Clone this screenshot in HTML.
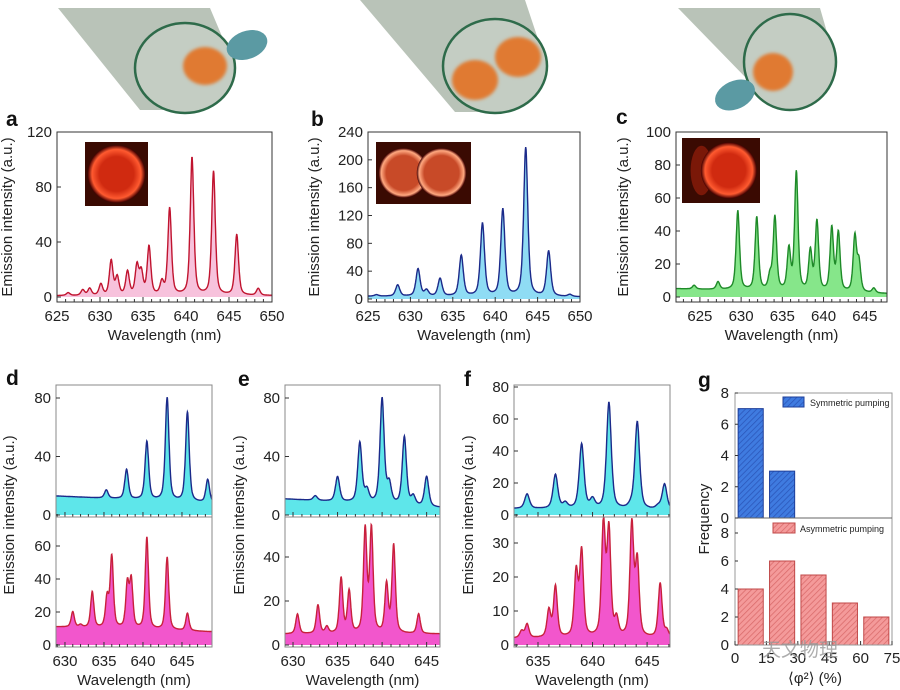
<!DOCTYPE html>
<html><head><meta charset="utf-8"><style>
body{margin:0;background:#fff}
svg{display:block;font-family:"Liberation Sans",Arial,sans-serif}
</style></head><body>
<svg id="fig" width="900" height="690" viewBox="0 0 900 690" xmlns="http://www.w3.org/2000/svg">
<defs>
<filter id="blur" x="-30%" y="-30%" width="160%" height="160%"><feGaussianBlur stdDeviation="1.5"/></filter>
<pattern id="hatchB" width="4" height="4" patternUnits="userSpaceOnUse" patternTransform="rotate(45)"><rect width="4" height="4" fill="#3f7be0"/><line x1="0" y1="0" x2="0" y2="4" stroke="#2a55b8" stroke-width="1.5"/></pattern>
<pattern id="hatchR" width="4" height="4" patternUnits="userSpaceOnUse" patternTransform="rotate(45)"><rect width="4" height="4" fill="#f49a9a"/><line x1="0" y1="0" x2="0" y2="4" stroke="#d96a6a" stroke-width="1.5"/></pattern>
<radialGradient id="ringA"><stop offset="0.6" stop-color="#d02a10"/><stop offset="0.85" stop-color="#ff5a30"/><stop offset="1" stop-color="#400"/></radialGradient>
<radialGradient id="ringB"><stop offset="0.7" stop-color="#c84a28"/><stop offset="0.9" stop-color="#ffa880"/><stop offset="1" stop-color="#400"/></radialGradient>
</defs>
<g>
<polygon points="58,8 210,8 232,60 178,110 140,110" fill="#b9c3b8"/>
<ellipse cx="185" cy="68" rx="50" ry="45" fill="#c4cdc3" stroke="#2e6b4a" stroke-width="2.5"/>
<ellipse cx="205" cy="66" rx="22" ry="19" fill="#e07a30" filter="url(#blur)"/>
<ellipse cx="247" cy="45" rx="21" ry="14" transform="rotate(-20 247 45)" fill="#5b9aa3"/>
</g>
<g>
<polygon points="360,0 525,0 545,60 500,112 455,112" fill="#b9c3b8"/>
<ellipse cx="495" cy="66" rx="52" ry="47" fill="#c4cdc3" stroke="#2e6b4a" stroke-width="2.5"/>
<ellipse cx="475" cy="80" rx="23" ry="20" fill="#e07a30" filter="url(#blur)"/>
<ellipse cx="518" cy="57" rx="23" ry="20" fill="#e07a30" filter="url(#blur)"/>
</g>
<g>
<polygon points="678,8 820,8 835,60 790,100 748,80" fill="#b9c3b8"/>
<ellipse cx="790" cy="62" rx="46" ry="48" fill="#c4cdc3" stroke="#2e6b4a" stroke-width="2.5"/>
<ellipse cx="773" cy="72" rx="20" ry="19" fill="#e07a30" filter="url(#blur)"/>
<ellipse cx="735" cy="95" rx="21" ry="14" transform="rotate(-25 735 95)" fill="#5b9aa3"/>
</g>
<g id="plots"></g>
</svg>
<script>
// ---- data ----
const aCenters=[626.3,628,628.8,630.1,631.3,632,633.2,634.3,634.8,635.7,637.2,638.1,640.7,643.2,645.9,648.4];
const aValues=[3,5,6,9,26,14,18,22,17,36,10,64,101,91,45,6];
const bCenters=[626,628.5,630.9,631.9,633.5,636,638.5,640.9,643.6,646.3,648.8];
const bValues=[6,20,43,12,29,62,108,128,217,68,6];
const cCenters=[624.3,627.2,629.6,631.9,633.5,634.1,635.8,636.7,638.4,639.2,641,641.8,643.8,644.3,646.1];
const cValues=[7,9,52,48,12,48,28,75,27,45,41,38,36,20,5];
const dUpCenters=[635.3,637.9,640.5,643.1,645.7,648.3];
const dUpValues=[17,31,50,80,70,24];
const dLoCenters=[631,632,633.5,635.4,636,638,638.5,640.5,643.1,645.7];
const dLoValues=[20,12,32,28,53,36,38,65,53,19];
const eUpCenters=[632.5,635,637.5,638.3,640,640.8,642.5,643.5,645];
const eUpValues=[13,26,49,16,79,20,53,12,26];
const eLoCenters=[630.5,632.8,633.8,635.4,636.3,638.1,638.8,640.5,641.3,644.1];
const eLoValues=[14,18,8,30,24,52,52,27,45,14];
const fUpCenters=[634,636.6,637.5,639,640,641.5,643.5,644.1,646,646.6];
const fUpValues=[13,25,7,44,9,70,5,58,5,19];
const fLoCenters=[633.5,634,636,636.6,638.5,639,641,641.5,642.2,643.6,644.1,646.2,646.8];
const fLoValues=[4,6,10,17,21,27,35,33,7,35,24,18,4];
const aBase=[1,1],bBase=[4,3],cBase=[5,2],dUpBase=[13,8],dLoBase=[11,8],eUpBase=[11,5],eLoBase=[5,5],fUpBase=[4,3],fLoBase=[2,2];
const gBins=[0,15,30,45,60];
const gSymmetric=[7,3];
const gAsymmetric=[4,6,5,3,2];
const gTicks=[0,15,30,45,60,75];

const NS="http://www.w3.org/2000/svg";
const root=document.getElementById('plots');
function mk(tag,attrs,parent){const e=document.createElementNS(NS,tag);for(const k in attrs)e.setAttribute(k,attrs[k]);(parent||root).appendChild(e);return e;}
function txt(x,y,s,size,anchor,parent,extra){const t=mk('text',Object.assign({x:x,y:y,'font-size':size,'text-anchor':anchor||'middle',fill:'#222'},extra||{}),parent);t.textContent=s;return t;}

function panel(name,cfg,centers,values,base,w){
  const g=mk('g',{});
  
  
  const [x0,y0,x1,y1]=cfg.box;
  const xs=v=>x0+(v-cfg.xd[0])/(cfg.xd[1]-cfg.xd[0])*(x1-x0);
  const ys=v=>cfg.zero-v*(cfg.zero-cfg.ref[1])/cfg.ref[0];
  const bl=x=>base[0]+(base[1]-base[0])*(x-cfg.xd[0])/(cfg.xd[1]-cfg.xd[0]);
  const shape=d=>{const l=w*w/(d*d+w*w);const gs=Math.exp(-d*d/(2*w*w*0.8));return 0.55*l+0.45*gs;};
  const spec=x=>{let s=bl(x);for(let i=0;i<centers.length;i++){const h=values[i]-bl(centers[i]);s+=h*shape(x-centers[i]);}return s;};
  let pts=[];
  for(let x=cfg.xd[0];x<=cfg.xd[1]+1e-9;x+=0.04){let v=spec(x);let py=Math.max(y0+1,Math.min(cfg.zero,ys(v)));pts.push(xs(x).toFixed(1)+','+py.toFixed(1));}
  const fill=mk('polygon',{points:xs(cfg.xd[0])+','+cfg.zero+' '+pts.join(' ')+' '+xs(cfg.xd[1])+','+cfg.zero,fill:cfg.fill},g);
  
  
  const line=mk('polyline',{points:pts.join(' '),fill:'none',stroke:cfg.line,'stroke-width':1.4},g);
  
  
  const frame=mk('rect',{x:x0,y:y0,width:x1-x0,height:y1-y0,fill:'none',stroke:cfg.frame||'#333','stroke-width':1},g);
  
  
  cfg.yticks.forEach(v=>{const p=ys(v);mk('line',{x1:x0,x2:x0+4,y1:p,y2:p,stroke:'#333'},g);const t=txt(x0-5,p+5,String(v),15,'end',g);});
  for(let v=Math.ceil(cfg.xd[0]);v<=cfg.xd[1];v++){const p=xs(v);mk('line',{x1:p,x2:p,y1:y1,y2:y1-(v%5==0?5:3),stroke:'#333'},g);}
  (cfg.xlabels||[]).forEach(v=>{const t=txt(xs(v),y1+19,String(v),15,'middle',g);});
  if(cfg.xtitle){const t=txt((x0+x1)/2,y1+38,'Wavelength (nm)',15,'middle',g);}
}
panel('spectrum-a',{box:[57,132,272,302],xd:[625,650],zero:297,ref:[120,132],yticks:[0,40,80,120],xlabels:[625,630,635,640,645,650],xtitle:1,fill:'#f7c2dc',line:'#c0142f'},aCenters,aValues,aBase,0.24);
panel('spectrum-b',{box:[368,132,580,302],xd:[625,650],zero:299,ref:[240,132],yticks:[0,40,80,120,160,200,240],xlabels:[625,630,635,640,645,650],xtitle:1,fill:'#8fdcf4',line:'#1b2a8a'},bCenters,bValues,bBase,0.28);
panel('spectrum-c',{box:[676,132,887,302],xd:[622.1,647.7],zero:297,ref:[100,132],yticks:[0,20,40,60,80,100],xlabels:[625,630,635,640,645],xtitle:1,fill:'#86e68a',line:'#1e8a28'},cCenters,cValues,cBase,0.24);
panel('spectrum-d-symmetric',{box:[56,385,212,517],xd:[628.85,648.85],zero:515,ref:[80,398],yticks:[0,40,80],fill:'#5ee6ea',line:'#1b2a8a',frame:'#888'},dUpCenters,dUpValues,dUpBase,0.27);
panel('spectrum-d-asymmetric',{box:[56,517,212,647],xd:[628.85,648.85],zero:645,ref:[60,546],yticks:[0,20,40,60],xlabels:[630,635,640,645],xtitle:1,fill:'#f256cc',line:'#c8203c',frame:'#888'},dLoCenters,dLoValues,dLoBase,0.24);
panel('spectrum-e-symmetric',{box:[285,385,440,517],xd:[629.1,646.5],zero:515,ref:[80,398],yticks:[0,40,80],fill:'#5ee6ea',line:'#1b2a8a',frame:'#888'},eUpCenters,eUpValues,eUpBase,0.27);
panel('spectrum-e-asymmetric',{box:[285,517,440,647],xd:[629.1,646.5],zero:645,ref:[40,557],yticks:[0,20,40],xlabels:[630,635,640,645],xtitle:1,fill:'#f256cc',line:'#c8203c',frame:'#888'},eLoCenters,eLoValues,eLoBase,0.22);
panel('spectrum-f-symmetric',{box:[514,385,670,517],xd:[632.8,647.1],zero:515,ref:[80,387],yticks:[0,20,40,60,80],fill:'#5ee6ea',line:'#1b2a8a',frame:'#888'},fUpCenters,fUpValues,fUpBase,0.25);
panel('spectrum-f-asymmetric',{box:[514,517,670,647],xd:[632.8,647.1],zero:645,ref:[30,543],yticks:[0,10,20,30],xlabels:[635,640,645],xtitle:1,fill:'#f256cc',line:'#c8203c',frame:'#888'},fLoCenters,fLoValues,fLoBase,0.2);

// insets
function inset(name,x,y,w,h,kind){const g=mk('g',{});
 mk('rect',{x:x,y:y,width:w,height:h,fill:'#3a0a02'},g);
 if(kind==1){mk('circle',{cx:x+w/2,cy:y+h/2,r:h*0.45,fill:'url(#ringA)'},g);}
 if(kind==2){mk('circle',{cx:x+w*0.29,cy:y+h/2,r:h*0.4,fill:'url(#ringB)'},g);mk('circle',{cx:x+w*0.69,cy:y+h/2,r:h*0.4,fill:'url(#ringB)'},g);}
 if(kind==3){mk('ellipse',{cx:x+w*0.25,cy:y+h/2,rx:w*0.14,ry:h*0.38,fill:'#7a1808'},g);mk('circle',{cx:x+w*0.6,cy:y+h/2,r:h*0.43,fill:'url(#ringA)'},g);}
}
inset('inset-image-a',85,142,63,64,1);
inset('inset-image-b',376,142,95,62,2);
inset('inset-image-c',682,138,78,65,3);

// panel letters & y titles
[['a',0,126],['b',305,126],['c',610,124],['d',0,385],['e',232,386],['f',458,386],['g',692,387]].forEach(l=>{const t=txt(l[1]+6,l[2],l[0],21,'start',root,{'font-weight':'bold',fill:'#111'});});
[[12,217],[319,217],[628,217],[14,515],[244,515],[473,515]].forEach(p=>{const t=txt(p[0],p[1],'Emission intensity (a.u.)',15,'middle',root,{transform:'rotate(-90 '+p[0]+' '+p[1]+')'});});

// panel g histogram
(function(){
 const g=mk('g',{});
 const X0=735,X1=892;const xs=v=>X0+v/75*(X1-X0);
 const yU=v=>518-v*(518-393)/8, yL=v=>645-v*(645-533)/8;
 gSymmetric.forEach((v,i)=>{const r=mk('rect',{x:xs(gBins[i]+1.5),y:yU(v),width:xs(12)-X0,height:518-yU(v),fill:'url(#hatchB)',stroke:'#1e3f9a','stroke-width':1},g);});
 gAsymmetric.forEach((v,i)=>{const r=mk('rect',{x:xs(gBins[i]+1.5),y:yL(v),width:xs(12)-X0,height:645-yL(v),fill:'url(#hatchR)',stroke:'#c04848','stroke-width':1},g);});
 mk('rect',{x:X0,y:393,width:X1-X0,height:252,fill:'none',stroke:'#999'},g);
 mk('line',{x1:X0,x2:X1,y1:518,y2:518,stroke:'#666'},g);
 [0,2,4,6,8].forEach(v=>{let t=txt(X0-6,yU(v)+5,String(v),15,'end',g);mk('line',{x1:X0,x2:X0+3,y1:yU(v),y2:yU(v),stroke:'#333'},g);
  t=txt(X0-6,yL(v)+5,String(v),15,'end',g);mk('line',{x1:X0,x2:X0+3,y1:yL(v),y2:yL(v),stroke:'#333'},g);});
 gTicks.forEach(v=>{const t=txt(xs(v),663,String(v),15,'middle',g);mk('line',{x1:xs(v),x2:xs(v),y1:645,y2:641,stroke:'#333'},g);});
 const lb=mk('rect',{x:783,y:397,width:21,height:10,fill:'url(#hatchB)',stroke:'#1e3f9a'},g);
 let t=txt(810,406,'Symmetric pumping',9,'start',g);
 const lr=mk('rect',{x:773,y:523,width:22,height:10,fill:'url(#hatchR)',stroke:'#c04848'},g);
 t=txt(800,532,'Asymmetric pumping',9,'start',g);
 t=txt(709,519,'Frequency',15,'middle',g,{transform:'rotate(-90 709 519)'});
 t=txt(815,683,'⟨φ²⟩ (%)',15,'middle',g);
 t=txt(800,656,'天文物理',19,'middle',g,{fill:'#999','font-family':'"Liberation Sans","Noto Sans CJK SC",sans-serif',opacity:'0.8'});
})();
</script>
</body></html>
